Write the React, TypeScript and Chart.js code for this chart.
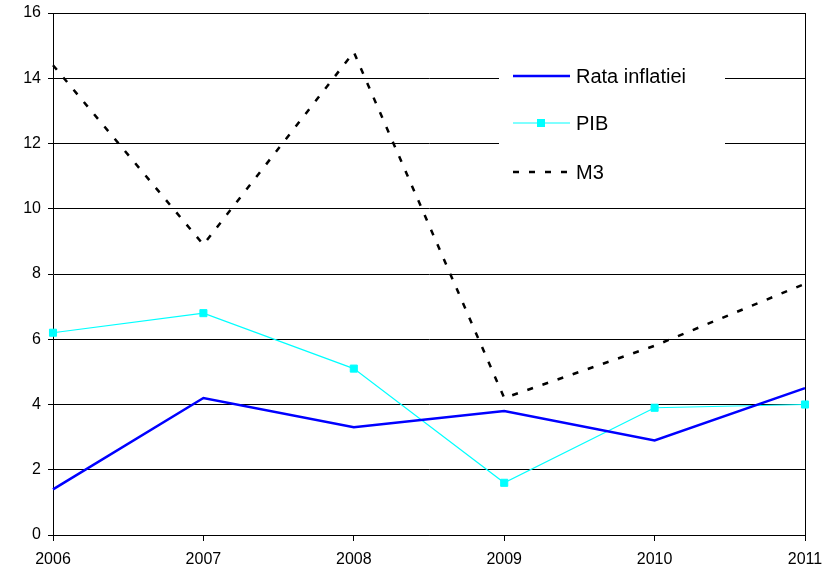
import React, { useEffect, useRef } from "react";
import { Chart, registerables } from "chart.js";

Chart.register(...registerables);

const years = ["2006", "2007", "2008", "2009", "2010", "2011"];
const rataInflatiei = [1.4, 4.2, 3.3, 3.8, 2.9, 4.5];
const pib = [6.2, 6.8, 5.1, 1.6, 3.9, 4.0];
const m3 = [14.4, 8.9, 14.8, 4.2, 5.8, 7.7];
const seriesNames = ["Rata inflatiei", "PIB", "M3"];

const FONT = "'Liberation Sans', Arial, sans-serif";

const legendPlugin = {
  id: "insideLegend",
  beforeDatasetsDraw(chart: any) {
    const ctx = chart.ctx;
    ctx.save();
    ctx.fillStyle = "#ffffff";
    ctx.fillRect(499, 55, 226, 135);
    ctx.restore();
  },
  afterDraw(chart: any) {
    const ctx = chart.ctx;
    const rows = [76, 123, 172];
    ctx.save();
    chart.data.datasets.forEach((ds: any, i: number) => {
      const y = rows[i];
      ctx.beginPath();
      ctx.strokeStyle = ds.borderColor;
      ctx.lineWidth = ds.borderWidth;
      ctx.setLineDash(ds.borderDash || []);
      ctx.moveTo(513, y);
      ctx.lineTo(570, y);
      ctx.stroke();
      ctx.setLineDash([]);
      if (ds.pointRadius > 0) {
        ctx.fillStyle = ds.pointBackgroundColor;
        ctx.fillRect(537, y - 4, 8, 8);
      }
      ctx.fillStyle = "#000";
      ctx.font = "20px " + FONT;
      ctx.textBaseline = "middle";
      ctx.textAlign = "left";
      ctx.fillText(ds.label, 576, y + 1);
    });
    ctx.restore();
  },
};

export default function App() {
  const ref = useRef<HTMLCanvasElement>(null);
  useEffect(() => {
    if (!ref.current) return;
    const chart = new Chart(ref.current, {
      type: "line",
      data: {
        labels: years,
        datasets: [
          {
            label: seriesNames[0],
            data: rataInflatiei,
            borderColor: "#0000ff",
            backgroundColor: "#0000ff",
            borderWidth: 2.5,
            pointRadius: 0,
            tension: 0,
          },
          {
            label: seriesNames[1],
            data: pib,
            borderColor: "#00ffff",
            backgroundColor: "#00ffff",
            pointBackgroundColor: "#00ffff",
            pointBorderColor: "#00ffff",
            borderWidth: 1.2,
            pointStyle: "rect",
            pointRadius: 5,
            pointBorderWidth: 1,
            tension: 0,
          },
          {
            label: seriesNames[2],
            data: m3,
            borderColor: "#000000",
            backgroundColor: "#000000",
            borderWidth: 2.5,
            borderDash: [6, 10],
            pointRadius: 0,
            tension: 0,
          },
        ],
      },
      options: {
        responsive: false,
        animation: false,
        layout: { padding: { top: 13, right: 31, left: 0, bottom: 0 } },
        plugins: {
          legend: { display: false },
          tooltip: { enabled: false },
        },
        scales: {
          x: {
            type: "category",
            offset: false,
            afterFit: (s: any) => {
              s.height = 36;
              s.paddingLeft = 0;
              s.paddingRight = 0;
            },
            grid: {
              color: (c: any) => (c.index === years.length - 1 ? "#000" : "rgba(0,0,0,0)"),
              tickColor: "#000",
              tickLength: 6,
              lineWidth: 1,
            },
            border: { color: "#000", width: 1 },
            ticks: {
              color: "#000",
              font: { family: FONT, size: 16 },
              padding: 9,
              maxRotation: 0,
            },
          },
          y: {
            min: 0,
            max: 16,
            afterFit: (s: any) => {
              s.width = 53;
              s.paddingTop = 0;
              s.paddingBottom = 0;
            },
            grid: {
              color: "#000",
              tickColor: "#000",
              tickLength: 5,
              lineWidth: 1,
            },
            border: { color: "#000", width: 1 },
            ticks: {
              stepSize: 2,
              color: "#000",
              font: { family: FONT, size: 16 },
              padding: 7,
            },
          },
        },
      },
      plugins: [legendPlugin],
    });
    return () => chart.destroy();
  }, []);
  return (
    <div style={{ position: "absolute", left: 0, top: 0, width: 836, height: 571, background: "#fff" }}>
      <canvas ref={ref} width={836} height={571} />
    </div>
  );
}
